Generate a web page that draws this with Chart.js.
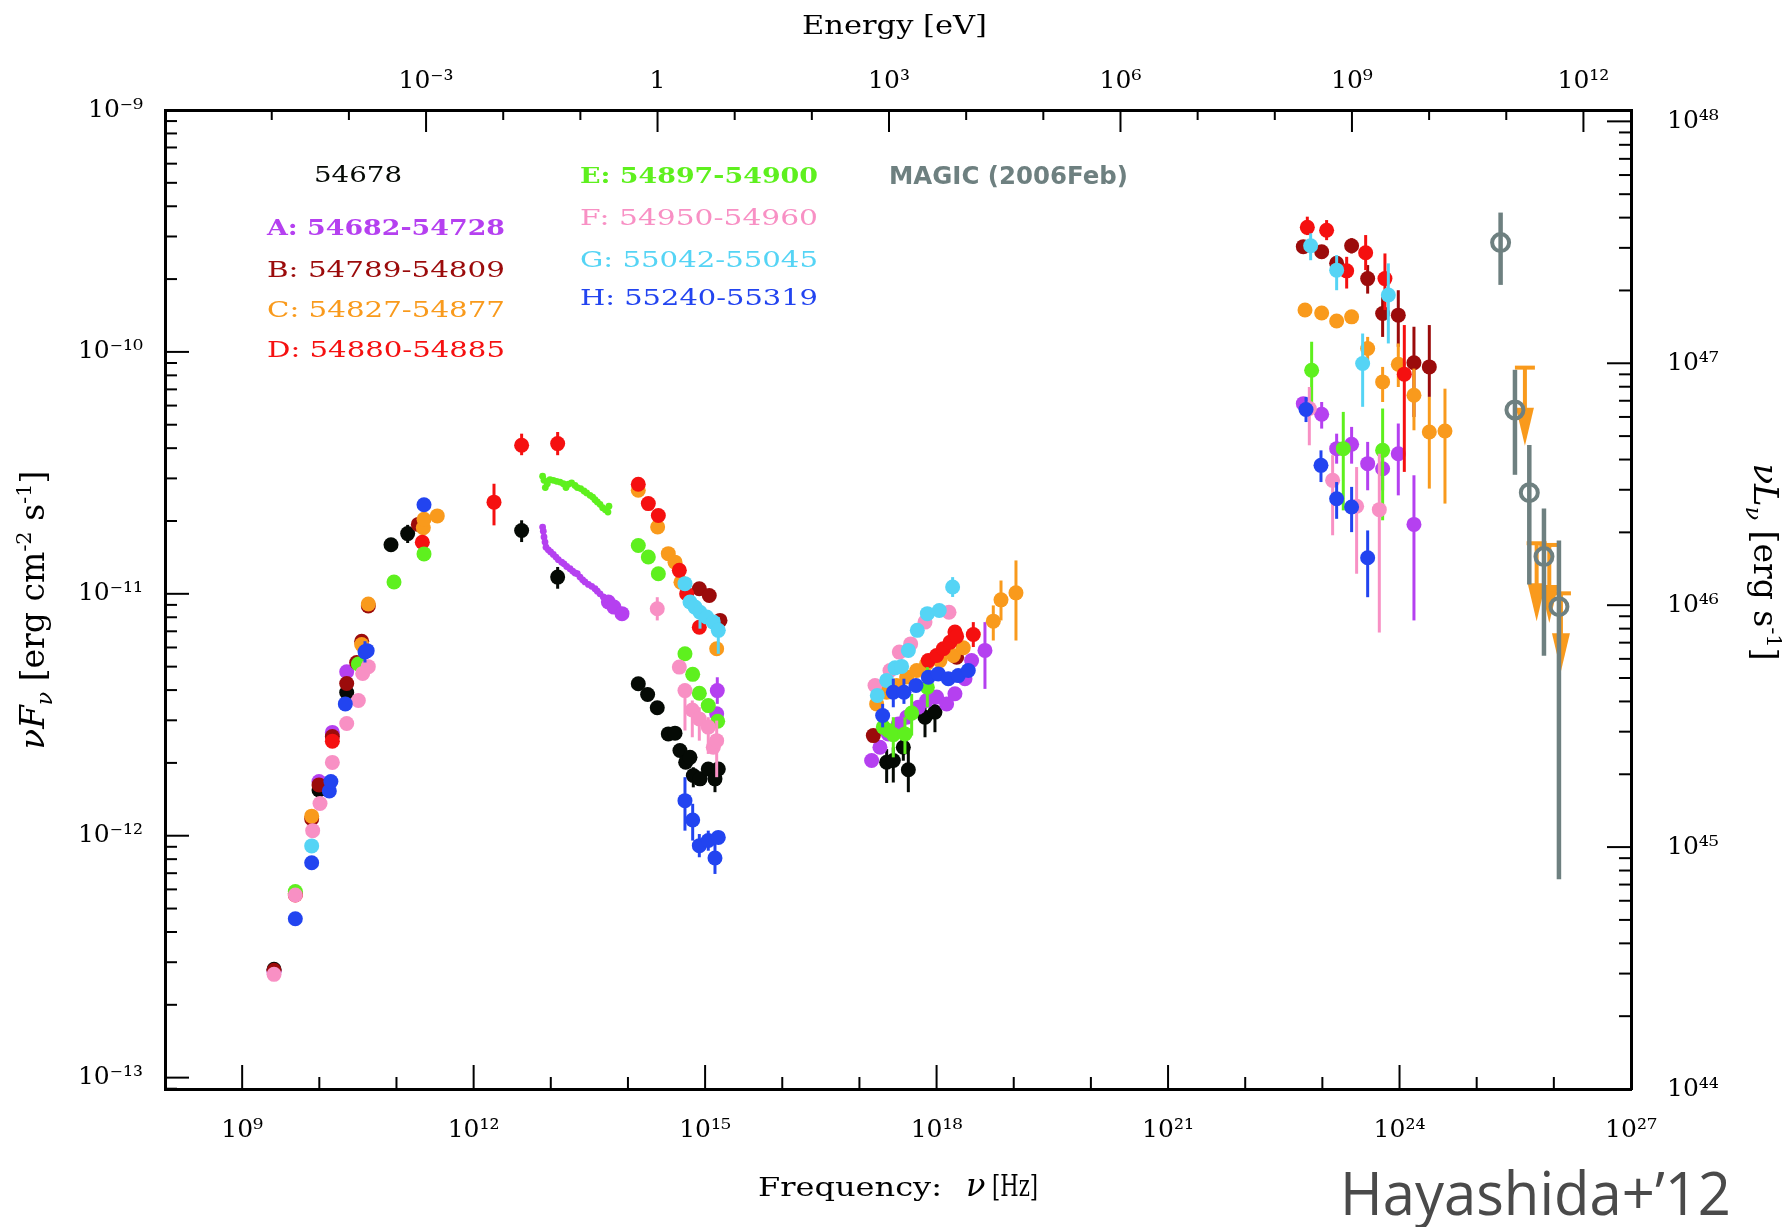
<!DOCTYPE html>
<html>
<head>
<meta charset="utf-8">
<script src="https://cdn.jsdelivr.net/npm/chart.js@4.4.1/dist/chart.umd.min.js"></script>
<style>
  html, body { margin: 0; padding: 0; background: #fff; }
  #wrap { width: 1788px; height: 1227px; position: relative; }
</style>
</head>
<body>
<div id="wrap"><canvas id="sed"></canvas></div>
<script>
// Each row: log10(nu / Hz), log10(nuFnu / erg cm^-2 s^-1), optional error bar low, high (log10)
const obs54678 = [
  [9.413, -12.552], [9.996, -11.811], [10.355, -11.408], [10.929, -10.797],
  [11.145, -10.751, -10.715, -10.790],
  [12.622, -10.738, -10.696, -10.786], [13.089, -10.931, -10.889, -10.979],
  [14.134, -11.372], [14.255, -11.416], [14.380, -11.471], [14.523, -11.579],
  [14.610, -11.576], [14.674, -11.648], [14.748, -11.696], [14.804, -11.676],
  [14.847, -11.751, -11.717, -11.800], [14.934, -11.765], [15.041, -11.724],
  [15.128, -11.765, -11.717, -11.820], [15.171, -11.724],
  [17.353, -11.696, -11.642, -11.782], [17.439, -11.689, -11.635, -11.780],
  [17.569, -11.634, -11.580, -11.690], [17.634, -11.727, -11.634, -11.820],
  [17.850, -11.510, -11.469, -11.593], [17.979, -11.489, -11.441, -11.572]
];

const periodA = [
  [9.413, -12.562], [9.996, -11.776], [10.169, -11.573], [10.355, -11.322],
  [13.746, -11.034], [13.819, -11.055], [13.923, -11.082],
  [15.150, -11.496], [15.158, -11.400, -11.345, -11.455],
  [17.158, -11.689], [17.266, -11.634], [17.374, -11.579], [17.504, -11.538],
  [17.612, -11.510], [17.763, -11.469], [17.871, -11.441], [18.001, -11.427],
  [18.130, -11.455], [18.238, -11.413], [18.368, -11.351], [18.454, -11.276],
  [18.627, -11.234, -11.117, -11.393],
  [22.753, -10.214], [22.991, -10.258, -10.207, -10.317], [23.185, -10.400, -10.338, -10.462],
  [23.379, -10.382, -10.310, -10.462], [23.587, -10.462, -10.372, -10.572],
  [23.781, -10.483, -10.393, -10.572], [23.984, -10.421, -10.296, -10.593],
  [24.187, -10.713, -10.510, -11.110]
];

// period A, infrared spectrum (small dots)
const periodAir = [
  [12.894, -10.724], [12.903, -10.741], [12.912, -10.765], [12.925, -10.786], [12.938, -10.807],
  [12.968, -10.818], [12.998, -10.827], [13.033, -10.837], [13.067, -10.848], [13.098, -10.859],
  [13.141, -10.869], [13.171, -10.876], [13.206, -10.887], [13.249, -10.896], [13.283, -10.906],
  [13.314, -10.914], [13.344, -10.917], [13.379, -10.931], [13.413, -10.942], [13.443, -10.951],
  [13.487, -10.961], [13.530, -10.969], [13.573, -10.979], [13.603, -10.989], [13.638, -11.000],
  [13.681, -11.013], [13.715, -11.025]
];

const periodB = [
  [9.413, -12.556], [9.689, -12.240], [9.901, -11.930], [9.996, -11.790], [10.169, -11.590],
  [10.355, -11.371], [10.484, -11.284], [10.549, -11.196], [10.635, -11.050], [11.283, -10.713],
  [14.925, -10.979], [15.054, -11.007], [15.193, -11.110],
  [17.180, -11.586], [18.260, -11.262],
  [22.753, -9.565], [22.991, -9.586], [23.185, -9.634, -9.607, -9.662], [23.379, -9.561, -9.530, -9.593],
  [23.587, -9.697, -9.641, -9.759], [23.781, -9.841, -9.772, -9.938], [23.984, -9.848, -9.745, -9.979],
  [24.187, -10.045, -9.896, -10.269], [24.386, -10.062, -9.889, -10.186]
];

const periodC = [
  [9.901, -11.919], [10.549, -11.210], [10.635, -11.042], [11.348, -10.727], [11.357, -10.692], [11.529, -10.678],
  [14.134, -10.572], [14.385, -10.724], [14.523, -10.834], [14.610, -10.869], [14.687, -10.952], [15.150, -11.227],
  [17.223, -11.455], [17.353, -11.407], [17.482, -11.379], [17.612, -11.344], [17.742, -11.317],
  [17.871, -11.289], [18.044, -11.276], [18.217, -11.255], [18.346, -11.223],
  [18.735, -11.113, -11.048, -11.193], [18.835, -11.025, -10.945, -11.110], [19.029, -10.996, -10.862, -11.193],
  [22.775, -9.827], [22.991, -9.839], [23.185, -9.872], [23.379, -9.855],
  [23.587, -9.986, -9.938, -10.034], [23.781, -10.124, -10.062, -10.207], [23.984, -10.051, -9.965, -10.145],
  [24.187, -10.179, -10.069, -10.324], [24.386, -10.331, -10.186, -10.565], [24.589, -10.327, -10.152, -10.627]
];

const periodD = [
  [9.689, -12.245], [10.169, -11.609], [11.335, -10.787],
  [12.264, -10.621, -10.545, -10.717], [12.622, -10.386, -10.338, -10.427], [13.089, -10.379, -10.331, -10.427],
  [14.134, -10.547], [14.264, -10.627], [14.394, -10.676], [14.666, -10.903], [14.761, -11.000], [14.925, -11.138],
  [17.893, -11.276], [18.001, -11.255], [18.087, -11.227], [18.174, -11.200], [18.238, -11.158], [18.260, -11.176],
  [18.476, -11.168, -11.117, -11.220],
  [22.805, -9.485, -9.441, -9.517], [23.055, -9.497, -9.455, -9.538], [23.315, -9.665, -9.607, -9.738],
  [23.561, -9.590, -9.517, -9.662], [23.811, -9.697, -9.593, -9.827], [24.062, -10.092, -9.889, -10.496]
];

const periodE = [
  [9.689, -12.231], [10.506, -11.290], [10.968, -10.951], [11.357, -10.835],
  [14.134, -10.800], [14.264, -10.848], [14.394, -10.917], [14.739, -11.248], [14.839, -11.333],
  [14.925, -11.411], [15.041, -11.462], [15.163, -11.527],
  [17.310, -11.551], [17.374, -11.565], [17.439, -11.582, -11.510, -11.676], [17.590, -11.579, -11.510, -11.662],
  [17.677, -11.493, -11.414, -11.586], [17.880, -11.386, -11.303, -11.469],
  [22.861, -10.076, -9.958, -10.214], [23.271, -10.400, -10.248, -10.655], [23.781, -10.407, -10.234, -10.696]
];

// period E, infrared spectrum (small dots)
const periodEir = [
  [12.894, -10.514], [12.912, -10.531], [12.929, -10.561], [12.955, -10.545], [12.990, -10.528],
  [13.033, -10.531], [13.076, -10.535], [13.119, -10.538], [13.162, -10.545], [13.197, -10.561],
  [13.227, -10.547], [13.270, -10.542], [13.314, -10.552], [13.344, -10.561], [13.387, -10.565],
  [13.430, -10.575], [13.465, -10.583], [13.508, -10.593], [13.543, -10.600], [13.573, -10.611],
  [13.603, -10.620], [13.638, -10.630], [13.672, -10.644], [13.707, -10.652], [13.741, -10.662],
  [13.754, -10.638]
];

const periodF = [
  [9.413, -12.573], [9.689, -12.245], [9.914, -11.979], [10.009, -11.867], [10.169, -11.697],
  [10.355, -11.536], [10.506, -11.441], [10.562, -11.329], [10.635, -11.301],
  [14.380, -11.062, -11.014, -11.110], [14.666, -11.303], [14.739, -11.400, -11.372, -11.565],
  [14.834, -11.480, -11.441, -11.593], [14.925, -11.517, -11.469, -11.607], [15.041, -11.551, -11.510, -11.662],
  [15.106, -11.634], [15.150, -11.607, -11.524, -11.758],
  [17.202, -11.379], [17.396, -11.317], [17.517, -11.241], [17.664, -11.207], [17.850, -11.117], [18.161, -11.076],
  [22.831, -10.234, -10.145, -10.386], [23.133, -10.531, -10.427, -10.758],
  [23.444, -10.638, -10.476, -10.917], [23.738, -10.652, -10.421, -11.160]
];

const periodG = [
  [9.901, -12.042],
  [14.739, -10.958], [14.804, -11.034], [14.869, -11.055], [14.934, -11.076, -11.041, -11.144],
  [15.021, -11.096], [15.106, -11.117], [15.171, -11.151, -11.096, -11.248],
  [17.232, -11.420], [17.353, -11.358], [17.461, -11.306], [17.547, -11.300], [17.634, -11.234],
  [17.750, -11.151], [17.880, -11.082], [18.035, -11.069], [18.208, -10.972, -10.931, -11.013],
  [22.848, -9.561, -9.510, -9.621], [23.185, -9.662, -9.600, -9.745],
  [23.522, -10.048, -9.924, -10.227], [23.855, -9.765, -9.634, -9.965]
];

const periodH = [
  [9.689, -12.343], [9.901, -12.112], [10.130, -11.815], [10.150, -11.776], [10.337, -11.455],
  [10.592, -11.240, -11.196, -11.284], [10.620, -11.235], [11.357, -10.632],
  [14.739, -11.855, -11.758, -11.979], [14.839, -11.935, -11.868, -12.020], [14.925, -12.041, -11.993, -12.089],
  [15.041, -12.020, -11.979, -12.062], [15.128, -12.092, -12.034, -12.158], [15.171, -12.007],
  [17.301, -11.503, -11.455, -11.552], [17.439, -11.407, -11.351, -11.469], [17.577, -11.407, -11.351, -11.455],
  [17.733, -11.379], [17.893, -11.345], [18.022, -11.331], [18.152, -11.351], [18.282, -11.338], [18.411, -11.317],
  [22.788, -10.238, -10.186, -10.290], [22.982, -10.469, -10.407, -10.538], [23.185, -10.607, -10.538, -10.690],
  [23.379, -10.641, -10.558, -10.745], [23.587, -10.851, -10.738, -11.014]
];

const magic2006 = [
  [25.310, -9.548, -9.424, -9.723], [25.496, -10.240, -10.074, -10.508], [25.682, -10.582, -10.385, -10.961],
  [25.872, -10.846, -10.647, -11.256], [26.066, -11.053, -10.780, -12.180]
];

// orange upper limits (value at the bar)
const upperLimits = [[25.625, -10.065], [25.777, -10.791], [25.941, -10.798], [26.092, -10.998]];

const legendLabels = ['54678', 'A: 54682-54728', 'B: 54789-54809', 'C: 54827-54877', 'D: 54880-54885',
  'E: 54897-54900', 'F: 54950-54960', 'G: 55042-55045', 'H: 55240-55319', 'MAGIC (2006Feb)'];

const nuTicks = [9, 12, 15, 18, 21, 24, 27];
const evTicks = [-3, 0, 3, 6, 9, 12];
const fluxTicks = [-13, -12, -11, -10, -9];
const lumTicks = [44, 45, 46, 47, 48];

const H_EV = 4.1357e-15;     // eV per Hz
const LUM_OFFSET = 57.047;   // log(nuL) - log(nuF)

const colors = {
  k: '#050a05', A: '#b540f0', B: '#9b0b0b', C: '#f99a1c', D: '#f51010',
  E: '#5ef01e', F: '#f890c4', G: '#55d4f5', H: '#2244f0', magic: '#6e8080'
};

const SUP = { '0': '⁰', '1': '¹', '2': '²', '3': '³', '4': '⁴', '5': '⁵', '6': '⁶', '7': '⁷', '8': '⁸', '9': '⁹', '-': '⁻' };
function pow10(n) {
  if (n === 0) return '1';
  return '10' + String(n).split('').map(c => SUP[c]).join('');
}

function series(rows, color, opts) {
  return Object.assign({
    data: rows.map(r => ({ x: 10 ** r[0], y: 10 ** r[1] })),
    errors: rows.map(r => r.length > 2 ? [10 ** r[2], 10 ** r[3]] : null),
    backgroundColor: color,
    borderColor: color,
    errorColor: color,
    errorWidth: 3,
    pointRadius: 7.5,
    pointBorderWidth: 0,
    showLine: false
  }, opts || {});
}

const datasets = [
  series(obs54678, colors.k),
  series(periodAir, colors.A, { pointRadius: 3.4 }),
  series(periodA, colors.A),
  series(periodB, colors.B),
  series(periodC, colors.C),
  series(periodD, colors.D),
  series(periodEir, colors.E, { pointRadius: 3.4 }),
  series(periodE, colors.E),
  series(periodF, colors.F),
  series(periodG, colors.G),
  series(periodH, colors.H),
  series(upperLimits, colors.C, { pointRadius: 0, upperLimit: true }),
  series(magic2006, colors.magic, {
    backgroundColor: 'rgba(0,0,0,0)', pointRadius: 8.5, pointBorderWidth: 4, errorWidth: 4.5
  })
];
datasets.forEach((d, i) => { d.order = datasets.length - i; });

function line(ctx, x1, y1, x2, y2) {
  ctx.beginPath(); ctx.moveTo(x1, y1); ctx.lineTo(x2, y2); ctx.stroke();
}

const errorBars = {
  id: 'errorBars',
  beforeDatasetDraw(chart, args) {
    const ds = chart.data.datasets[args.index];
    const ctx = chart.ctx, sx = chart.scales.x, sy = chart.scales.y;
    ctx.save();
    ctx.strokeStyle = ds.errorColor;
    ctx.lineWidth = ds.errorWidth;
    ds.data.forEach((p, i) => {
      const e = ds.errors[i];
      if (!e) return;
      const px = sx.getPixelForValue(p.x);
      line(ctx, px, sy.getPixelForValue(e[0]), px, sy.getPixelForValue(e[1]));
    });
    ctx.restore();
  },
  afterDatasetDraw(chart, args) {
    const ds = chart.data.datasets[args.index];
    if (!ds.upperLimit) return;
    const ctx = chart.ctx, sx = chart.scales.x, sy = chart.scales.y;
    ctx.save();
    ctx.strokeStyle = ds.errorColor;
    ctx.fillStyle = ds.errorColor;
    ctx.lineWidth = 4;
    ds.data.forEach(p => {
      const px = sx.getPixelForValue(p.x), py = sy.getPixelForValue(p.y);
      line(ctx, px - 10, py, px + 10, py);
      line(ctx, px, py, px, py + 50);
      ctx.beginPath();
      ctx.moveTo(px - 9, py + 40);
      ctx.lineTo(px + 9, py + 40);
      ctx.lineTo(px, py + 78);
      ctx.closePath();
      ctx.fill();
    });
    ctx.restore();
  }
};

function stretchText(ctx, text, x, y, width, font) {
  ctx.font = font;
  const w = ctx.measureText(text).width;
  ctx.save();
  ctx.translate(x, y);
  ctx.scale(width / w, 1);
  ctx.fillText(text, 0, 0);
  ctx.restore();
}

// draws a run of [text, font, dy] pieces from x, returns total width
function richText(ctx, parts, x, y, measureOnly) {
  let cx = x;
  for (const [t, f, dy] of parts) {
    ctx.font = f;
    if (!measureOnly) ctx.fillText(t, cx, y + (dy || 0));
    cx += ctx.measureText(t).width;
  }
  return cx - x;
}

const frameAndText = {
  id: 'frameAndText',
  beforeDatasetsDraw(chart) {
    const ctx = chart.ctx;
    const { left, right, top, bottom } = chart.chartArea;
    const sx = chart.scales.x, st = chart.scales.xTop, sy = chart.scales.y, sr = chart.scales.yR;
    ctx.save();
    ctx.strokeStyle = '#000';
    ctx.lineWidth = 2;
    for (let n = 9; n <= 26; n++) {
      const px = sx.getPixelForValue(10 ** n);
      line(ctx, px, bottom, px, bottom - (n % 3 === 0 ? 24 : 12));
    }
    for (let n = -5; n <= 12; n++) {
      const px = st.getPixelForValue(10 ** n);
      line(ctx, px, top, px, top + (n % 3 === 0 ? 22 : 10));
    }
    for (let n = -14; n <= -9; n++) {
      for (let k = 1; k <= 9; k++) {
        const v = k * 10 ** n;
        if (v < sy.min * 0.999 || v > sy.max * 1.001) continue;
        const py = sy.getPixelForValue(v);
        line(ctx, left, py, left + (k === 1 ? 24 : 12), py);
      }
    }
    for (let n = 44; n <= 48; n++) {
      for (let k = 1; k <= 9; k++) {
        const v = k * 10 ** n;
        if (v < sr.min * 0.999 || v > sr.max * 1.001) continue;
        const py = sr.getPixelForValue(v);
        line(ctx, right, py, right - (k === 1 ? 24 : 12), py);
      }
    }
    ctx.restore();
  },
  afterDraw(chart) {
    const ctx = chart.ctx;
    ctx.save();
    ctx.textAlign = 'left';
    ctx.textBaseline = 'alphabetic';
    const legendPos = [
      [314, 182, 88, colors.k, ''], [267, 235, 238, colors.A, 'bold '], [267, 277, 238, colors.B, ''],
      [267, 317, 238, colors.C, ''], [267, 357, 238, colors.D, ''],
      [580, 183, 238, colors.E, 'bold '], [580, 225, 238, colors.F, ''], [580, 267, 238, colors.G, ''],
      [580, 305, 238, colors.H, '']
    ];
    legendPos.forEach((p, i) => {
      ctx.fillStyle = p[3];
      stretchText(ctx, legendLabels[i], p[0], p[1], p[2], p[4] + "23px 'DejaVu Serif'");
    });
    ctx.fillStyle = colors.magic;
    stretchText(ctx, legendLabels[9], 889, 184, 239, "bold 24px 'DejaVu Sans'");

    // axis titles
    ctx.fillStyle = '#000';
    stretchText(ctx, 'Energy [eV]', 802, 34, 185, "26px 'DejaVu Serif'");
    stretchText(ctx, 'Frequency:', 758, 1196, 184, "26px 'DejaVu Serif'");
    richText(ctx, [['ν', "italic 32px 'DejaVu Serif'"]], 966, 1196);
    stretchText(ctx, '[Hz]', 992, 1196, 46, "30px 'DejaVu Serif'");

    const leftParts = [
      ['ν', "italic 34px 'DejaVu Serif'"], ['F', "italic 34px 'DejaVu Serif'"],
      ['ν', "italic 22px 'DejaVu Serif'", 8], [' [erg cm', "33px 'DejaVu Serif'"],
      ['-2', "21px 'DejaVu Serif'", -13], [' s', "33px 'DejaVu Serif'"],
      ['-1', "21px 'DejaVu Serif'", -13], [']', "33px 'DejaVu Serif'"]
    ];
    const lw = richText(ctx, leftParts, 0, 0, true);
    ctx.save();
    ctx.translate(44, 610);
    ctx.rotate(-Math.PI / 2);
    richText(ctx, leftParts, -lw / 2, 0);
    ctx.restore();

    const rightParts = [
      ['ν', "italic 34px 'DejaVu Serif'"], ['L', "italic 34px 'DejaVu Serif'"],
      ['ν', "italic 22px 'DejaVu Serif'", 8], [' [erg s', "33px 'DejaVu Serif'"],
      ['-1', "21px 'DejaVu Serif'", -13], [']', "33px 'DejaVu Serif'"]
    ];
    const rw = richText(ctx, rightParts, 0, 0, true);
    ctx.save();
    ctx.translate(1754, 562);
    ctx.rotate(Math.PI / 2);
    richText(ctx, rightParts, -rw / 2, 0);
    ctx.restore();

    ctx.fillStyle = '#4a4a4a';
    stretchText(ctx, 'Hayashida+’12', 1340, 1215, 391, "60px 'Open Sans'");
    ctx.restore();
  }
};

const tickFont = { family: "'DejaVu Serif'", size: 25 };

function logAxis(position, min, max, ticks, size, padding, labelFn) {
  const horizontal = position === 'top' || position === 'bottom';
  return {
    type: 'logarithmic',
    axis: horizontal ? 'x' : 'y',
    position: position,
    min: min,
    max: max,
    afterBuildTicks: s => { s.ticks = ticks.map(n => ({ value: 10 ** n })); },
    afterFit: s => { if (horizontal) s.height = size; else s.width = size; },
    ticks: {
      callback: v => labelFn(Math.round(Math.log10(v))),
      font: tickFont, color: '#000', padding: padding,
      autoSkip: false, maxRotation: 0, minRotation: 0
    },
    grid: { display: false, drawTicks: false },
    border: { display: true, color: '#000', width: 3 }
  };
}

new Chart(sed, {
  type: 'scatter',
  data: { datasets: datasets },
  options: {
    responsive: true,
    maintainAspectRatio: false,
    animation: false,
    devicePixelRatio: 1,
    events: [],
    layout: { padding: 0 },
    plugins: { legend: { display: false }, tooltip: { enabled: false } },
    scales: {
      x: logAxis('bottom', 1e8, 1e27, nuTicks, 138, 26, pow10),
      xTop: logAxis('top', 1e8 * H_EV, 1e27 * H_EV, evTicks, 110, 14, pow10),
      y: logAxis('left', 10 ** (44 - LUM_OFFSET), 1e-9, fluxTicks, 165, 22, pow10),
      yR: logAxis('right', 1e44, 10 ** (-9 + LUM_OFFSET), lumTicks, 157, 36, pow10)
    }
  },
  plugins: [errorBars, frameAndText]
});
</script>
</body>
</html>
